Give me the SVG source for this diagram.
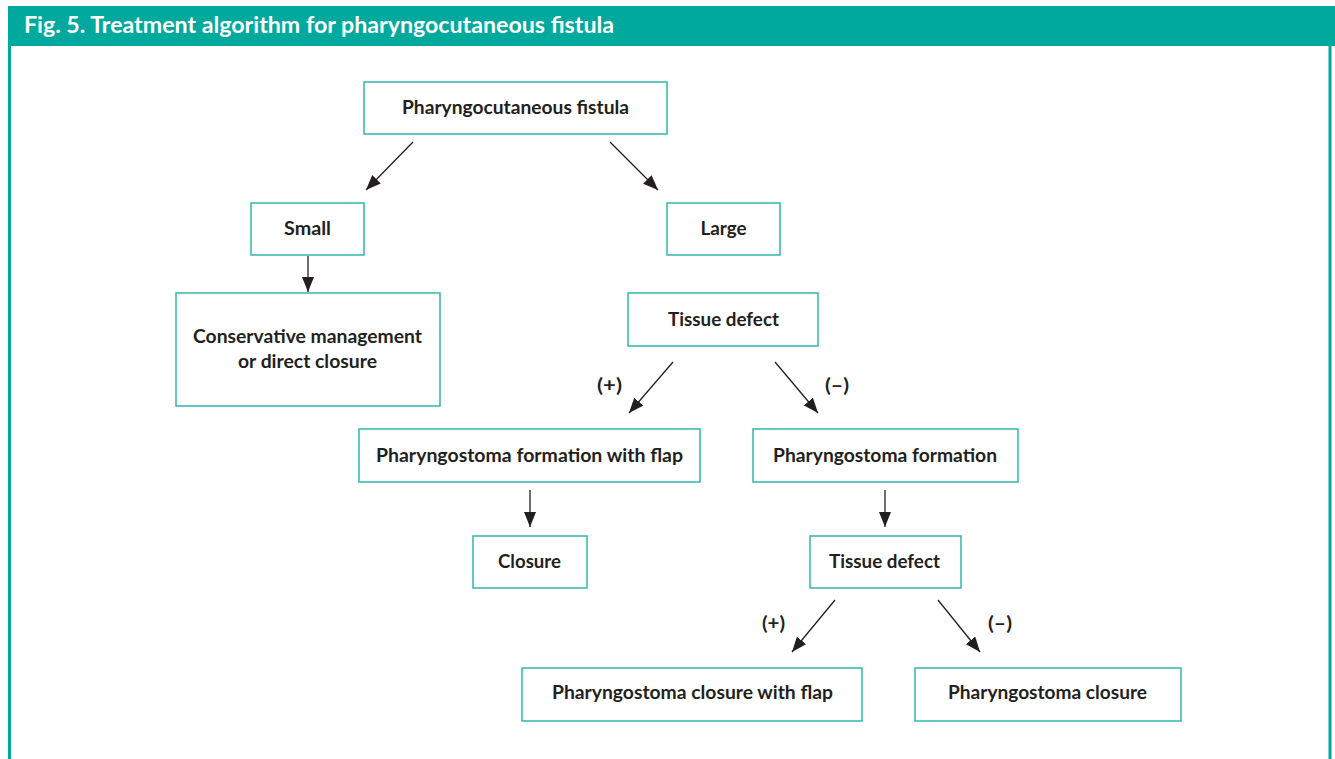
<svg xmlns="http://www.w3.org/2000/svg" width="1335" height="759" viewBox="0 0 1335 759">
<style>
.box{fill:#fff;stroke:#3dbcb1;stroke-width:1.6}
.t{font-family:Lato,"Liberation Sans",sans-serif;font-weight:700;font-size:19px;fill:#231f20;text-anchor:middle}
.lbl{font-family:Lato,"Liberation Sans",sans-serif;font-weight:700;font-size:19px;fill:#231f20;text-anchor:start}
.ttl{font-family:Lato,"Liberation Sans",sans-serif;font-weight:700;font-size:22px;fill:#fff}
.c{stroke:#231f20;stroke-width:1.3;fill:none;marker-end:url(#ah)}
</style>
<defs>
<marker id="ah" viewBox="0 0 15 12" refX="15" refY="6" markerWidth="15" markerHeight="12" markerUnits="userSpaceOnUse" orient="auto">
<path d="M0,0 L15,6 L0,12 z" fill="#231f20"/>
</marker>
</defs>
<rect x="0" y="0" width="1335" height="759" fill="#fff"/>
<g id="frame">
<rect x="8" y="6" width="1327" height="40" fill="#00a99d"/>
<line x1="9.5" y1="45" x2="9.5" y2="759" stroke="#00a99d" stroke-width="3"/>
<line x1="1330" y1="45" x2="1330" y2="759" stroke="#00a99d" stroke-width="3"/>
<text class="ttl" x="24" y="33" textLength="590" lengthAdjust="spacingAndGlyphs">Fig. 5. Treatment algorithm for pharyngocutaneous fistula</text>
</g>
<g id="connectors">
<line class="c" x1="413" y1="142" x2="366" y2="190"/>
<line class="c" x1="610" y1="142" x2="658" y2="190"/>
<line class="c" x1="308" y1="256" x2="308" y2="292"/>
<line class="c" x1="673" y1="362" x2="629" y2="413"/>
<line class="c" x1="775" y1="362" x2="818" y2="413"/>
<line class="c" x1="530" y1="490" x2="530" y2="527"/>
<line class="c" x1="885" y1="490" x2="885" y2="527"/>
<line class="c" x1="835" y1="600" x2="792" y2="652"/>
<line class="c" x1="938" y1="600" x2="980" y2="652"/>
<text class="lbl" x="597" y="392" textLength="25" lengthAdjust="spacingAndGlyphs">(+)</text>
<text class="lbl" x="825" y="392" textLength="24" lengthAdjust="spacingAndGlyphs">(–)</text>
<text class="lbl" x="762" y="630" textLength="23" lengthAdjust="spacingAndGlyphs">(+)</text>
<text class="lbl" x="988" y="630" textLength="24" lengthAdjust="spacingAndGlyphs">(–)</text>
</g>
<g id="n-fistula">
<rect class="box" x="364" y="82" width="303" height="52"/>
<text class="t" x="515.5" y="114" textLength="227" lengthAdjust="spacingAndGlyphs">Pharyngocutaneous fistula</text>
</g>
<g id="n-small">
<rect class="box" x="251" y="203" width="113" height="52"/>
<text class="t" x="307.5" y="235" textLength="47" lengthAdjust="spacingAndGlyphs">Small</text>
</g>
<g id="n-large">
<rect class="box" x="667" y="203" width="113" height="52"/>
<text class="t" x="723.5" y="235" textLength="46" lengthAdjust="spacingAndGlyphs">Large</text>
</g>
<g id="n-conservative">
<rect class="box" x="176" y="293" width="264" height="113"/>
<text class="t" x="307.5" y="343" textLength="229" lengthAdjust="spacingAndGlyphs">Conservative management</text>
<text class="t" x="307.5" y="368" textLength="139" lengthAdjust="spacingAndGlyphs">or direct closure</text>
</g>
<g id="n-tissue1">
<rect class="box" x="628" y="293" width="190" height="53"/>
<text class="t" x="723.5" y="326" textLength="111" lengthAdjust="spacingAndGlyphs">Tissue defect</text>
</g>
<g id="n-pfwf">
<rect class="box" x="359" y="429" width="341" height="53"/>
<text class="t" x="529.5" y="462" textLength="307" lengthAdjust="spacingAndGlyphs">Pharyngostoma formation with flap</text>
</g>
<g id="n-pf">
<rect class="box" x="753" y="429" width="265" height="53"/>
<text class="t" x="885" y="462" textLength="224" lengthAdjust="spacingAndGlyphs">Pharyngostoma formation</text>
</g>
<g id="n-closure">
<rect class="box" x="473" y="536" width="114" height="52"/>
<text class="t" x="529.5" y="568" textLength="63" lengthAdjust="spacingAndGlyphs">Closure</text>
</g>
<g id="n-tissue2">
<rect class="box" x="810" y="536" width="151" height="52"/>
<text class="t" x="884.5" y="568" textLength="111" lengthAdjust="spacingAndGlyphs">Tissue defect</text>
</g>
<g id="n-pcwf">
<rect class="box" x="522" y="668" width="340" height="53"/>
<text class="t" x="692.5" y="699" textLength="281" lengthAdjust="spacingAndGlyphs">Pharyngostoma closure with flap</text>
</g>
<g id="n-pc">
<rect class="box" x="915" y="668" width="266" height="53"/>
<text class="t" x="1047.5" y="699" textLength="199" lengthAdjust="spacingAndGlyphs">Pharyngostoma closure</text>
</g>
</svg>
